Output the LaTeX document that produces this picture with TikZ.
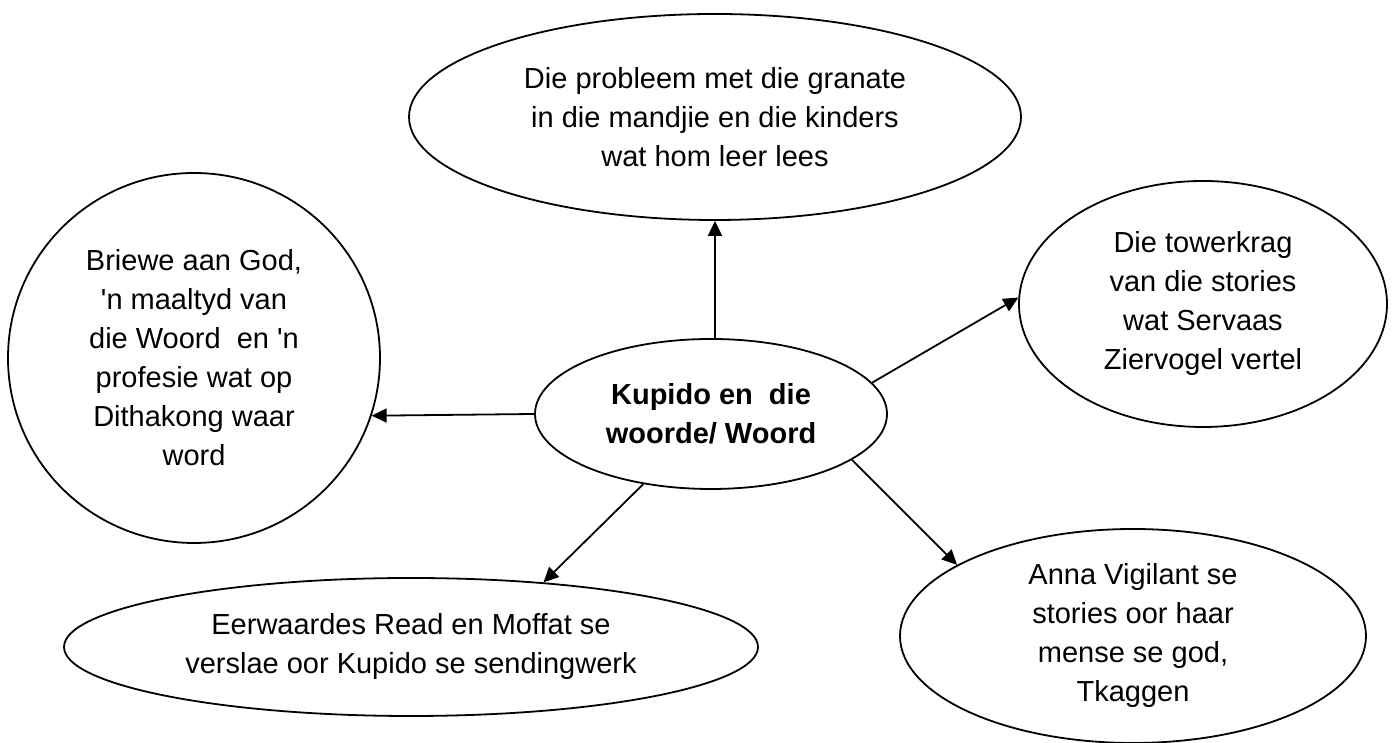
\documentclass[tikz,border=0pt]{standalone}
\usepackage{fontspec}
\newfontfamily\arial{Liberation Sans}
\usetikzlibrary{shapes.geometric,arrows.meta}
\tikzset{
  bubble/.style={ellipse,draw,line width=0.9pt,inner sep=0pt,align=center,
    font=\arial\fontsize{14.5}{19.5}\selectfont},
  link/.style={line width=0.9pt,-{Triangle[length=7.5pt,width=7pt]}}
}
\begin{document}
\begin{tikzpicture}[x=0.5pt,y=0.5pt]
\useasboundingbox (0,0) rectangle (1394,743);
\node[bubble,minimum width=306pt,minimum height=103pt] (t) at (715,626)
  {Die probleem met die granate\\in die mandjie en die kinders\\wat hom leer lees};
\node[bubble,minimum width=186pt,minimum height=185pt] (l) at (194,385)
  {Briewe aan God,\\'n maaltyd van\\die Woord \ en 'n\\profesie wat op\\Dithakong waar\\word};
\node[bubble,minimum width=184pt,minimum height=123pt] (r) at (1203,439)
  {Die towerkrag\\van die stories\\wat Servaas\\Ziervogel vertel};
\node[bubble,minimum width=176pt,minimum height=75pt,font=\arial\bfseries\fontsize{14.5}{19.5}\selectfont] (c) at (711,329)
  {Kupido en \ die\\woorde/ Woord};
\node[bubble,minimum width=347pt,minimum height=69pt] (bl) at (411,96)
  {Eerwaardes Read en Moffat se\\verslae oor Kupido se sendingwerk};
\node[bubble,minimum width=233pt,minimum height=107pt] (br) at (1133,107)
  {Anna Vigilant se\\stories oor haar\\mense se god,\\Tkaggen};
\draw[link] (c.north -| t.south) -- (t.south);
\draw[link] (c.11) -- (r.178);
\draw[link] (c.180) -- (l.-18);
\draw[link] (c.-134) -- (bl.26);
\draw[link] (c.-18) -- (br.158);
\end{tikzpicture}
\end{document}
